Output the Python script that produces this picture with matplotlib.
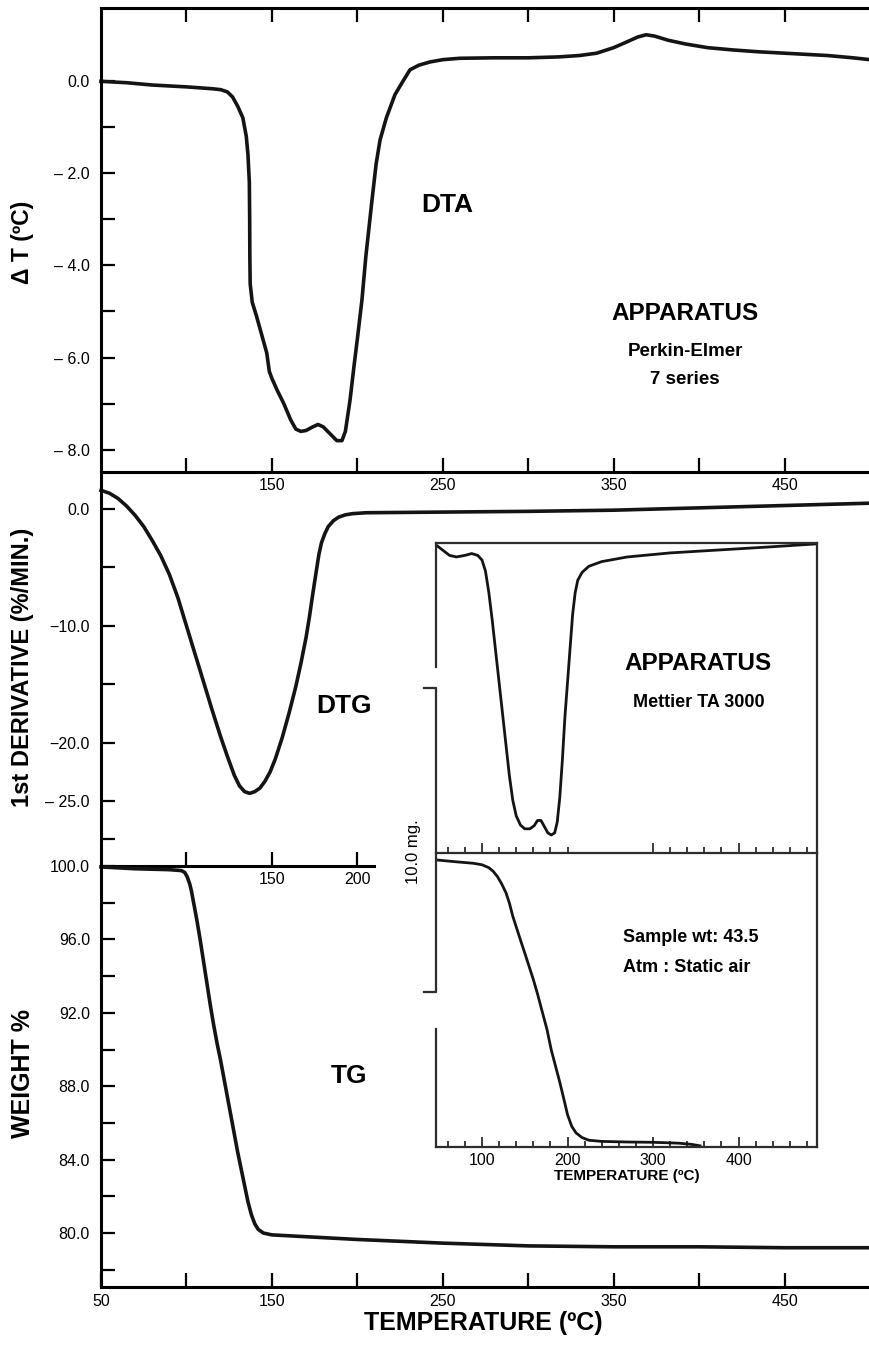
import matplotlib
matplotlib.use('Agg')
import matplotlib.pyplot as plt
import matplotlib.font_manager as fm
from matplotlib.lines import Line2D

# ---------------- data ----------------
dta_T = [50, 65, 80, 100, 115, 120, 124, 127, 130, 133, 135, 136, 136.8, 137, 137.1, 137.3,
         138.5, 141, 144, 147, 148.5, 150, 153, 157, 161, 164, 167, 170, 174, 177, 180, 184,
         188, 191, 193, 195.7, 198, 200, 202.7, 205, 208.6, 211, 213.3, 217, 222, 226, 230.8,
         236, 242.5, 250, 260, 280, 300, 318, 330, 340, 350, 358, 364, 369, 374, 382, 392,
         405, 420, 435, 450, 465, 475, 490, 500]
dta_v = [-0.01, -0.04, -0.09, -0.13, -0.17, -0.19, -0.24, -0.35, -0.55, -0.8, -1.2, -1.6,
         -2.2, -3.0, -3.8, -4.4, -4.8, -5.1, -5.5, -5.9, -6.3, -6.45, -6.7, -7.0, -7.35, -7.55,
         -7.6, -7.58, -7.5, -7.45, -7.5, -7.65, -7.8, -7.8, -7.6, -6.93, -6.2, -5.6, -4.75,
         -3.8, -2.58, -1.8, -1.28, -0.8, -0.3, -0.05, 0.24, 0.34, 0.41, 0.46, 0.49, 0.5, 0.5,
         0.52, 0.55, 0.6, 0.72, 0.85, 0.95, 1.0, 0.97, 0.88, 0.8, 0.72, 0.67, 0.63, 0.6, 0.57,
         0.55, 0.5, 0.46]

dtg_T = [50, 55, 60, 65, 70, 75, 80, 85, 90, 95, 100, 105, 110, 115, 120, 124, 128, 131, 134,
         137, 140, 143, 146, 149, 152, 156, 160, 164, 167, 170, 172, 174, 176, 177.5, 179, 181,
         183, 186, 189, 193, 197, 205, 220, 260, 300, 350, 400, 450, 500]
dtg_v = [1.6, 1.35, 0.9, 0.25, -0.55, -1.5, -2.7, -4.0, -5.6, -7.6, -10.0, -12.4, -14.8, -17.2,
         -19.5, -21.2, -22.8, -23.7, -24.2, -24.35, -24.2, -23.9, -23.3, -22.5, -21.4, -19.6,
         -17.5, -15.2, -13.2, -11.0, -9.2, -7.2, -5.3, -3.9, -2.9, -2.1, -1.5, -1.0, -0.7, -0.5,
         -0.4, -0.32, -0.3, -0.25, -0.2, -0.1, 0.1, 0.3, 0.5]

tg_T = [50, 70, 90, 97, 99, 100.5, 102, 103, 104, 105, 106, 108, 110, 112, 114, 116, 118, 120,
        122, 124, 126, 128, 130, 132, 134, 136, 138, 140, 142, 145, 150, 160, 170, 200, 250,
        300, 350, 400, 450, 500]
tg_w = [99.95, 99.85, 99.8, 99.75, 99.65, 99.4, 99.0, 98.6, 98.1, 97.6, 97.1, 96.0, 94.8,
        93.6, 92.4, 91.3, 90.3, 89.4, 88.4, 87.4, 86.4, 85.4, 84.4, 83.5, 82.6, 81.7, 81.0,
        80.5, 80.2, 80.0, 79.9, 79.85, 79.8, 79.65, 79.45, 79.3, 79.25, 79.25, 79.2, 79.2]

# inset (Mettler TA 3000), signals in relative units 0-100
ins_dta_T = [48, 55, 62, 70, 80, 88, 95, 100, 104, 108, 112, 116, 120, 124, 128, 132, 136, 140,
             145, 150, 156, 161, 165, 169, 173, 177, 181, 185, 188, 191, 194, 197, 200, 203, 206,
             209, 212, 217, 225, 240, 270, 320, 380, 440, 490]
ins_dta_v = [99, 97.5, 96, 95.5, 96, 96.6, 96, 94.5, 91, 84, 75, 65, 55, 45, 35, 25, 17, 12,
             9, 7.8, 7.8, 8.8, 10.5, 10.5, 8.5, 6.5, 5.8, 6.5, 10, 18, 30, 44, 55, 66, 77, 84,
             88, 90.5, 92.5, 94, 95.5, 96.8, 97.8, 98.8, 99.7]
ins_tg_T = [48, 70, 90, 100, 108, 113, 118, 123, 128, 132, 136, 141, 146, 150, 155, 160, 165,
            170, 176, 181, 186, 191, 196, 200, 205, 210, 217, 225, 240, 270, 300, 330, 345, 355]
ins_tg_v = [97.6, 97.0, 96.5, 96, 95, 93.8, 92, 89.5, 86.5, 83, 78.5, 74, 69.5, 66, 61.5, 57,
            52, 46.5, 40, 33, 27.5, 22, 16, 11, 7, 4.8, 3.2, 2.3, 1.9, 1.7, 1.6, 1.3, 0.9, 0.4]

# ticks / labels
x_ticks = [100, 150, 200, 250, 300, 350, 400, 450]
x_ticklabels = ['', '150', '', '250', '', '350', '', '450']
bot_x_ticks = [50, 100, 150, 200, 250, 300, 350, 400, 450]
bot_x_ticklabels = ['50', '', '150', '', '250', '', '350', '', '450']
dta_yticks = [0, -2, -4, -6, -8]
dta_yticklabels = ['0.0', '\u2013 2.0', '\u2013 4.0', '\u2013 6.0', '\u2013 8.0']
dta_yminor = [-1, -3, -5, -7]
dtg_yticks = [0, -10, -20, -25]
dtg_yticklabels = ['0.0', '\u221210.0', '\u221220.0', '\u2013 25.0']
dtg_yminor = [-5, -15, -28.3]
dtg_xticks = [100, 150, 200]
dtg_xticklabels = ['', '150', '200']
tg_yticks = [100, 96, 92, 88, 84, 80]
tg_yticklabels = ['100.0', '96.0', '92.0', '88.0', '84.0', '80.0']
tg_yminor = [98, 94, 90, 86, 82, 78]
ins_major = [100, 200, 300, 400]
ins_minor = [60, 80, 120, 140, 160, 180, 220, 240, 260, 280, 320, 340, 360, 380, 420, 440, 460, 480]
ins_div_major = [100, 300, 400]
ins_div_minor = [60, 80, 120, 140, 160, 180, 200, 320, 340, 360, 380, 420, 440, 460, 480]

# ---------------- style ----------------
names = {f.name for f in fm.fontManager.ttflist}
NARROW = 'Liberation Sans Narrow' if 'Liberation Sans Narrow' in names else 'Liberation Sans'
plt.rcParams['font.family'] = ['Liberation Sans', 'DejaVu Sans']
INK = '#141414'

W, H = 870, 1358
fig = plt.figure(figsize=(W / 100, H / 100), dpi=100)


def box(x0, y0, x1, y1):
    return [x0 / W, 1 - y1 / H, (x1 - x0) / W, (y1 - y0) / H]


def fx(x):
    return x / W


def fy(y):
    return 1 - y / H


SP = 2.2
def style(ax, lw=SP):
    ax.set_facecolor('none')
    for s in ax.spines.values():
        s.set_linewidth(lw)
        s.set_color('black')
    ax.tick_params(axis='both', which='both', direction='in', width=1.6, labelsize=11.5,
                   colors='black')
    ax.tick_params(axis='both', which='major', length=10)
    ax.tick_params(axis='both', which='minor', length=10)


# ---- DTA (top) ----
ax1 = fig.add_axes(box(101, 8, 870, 472))
style(ax1)
ax1.set_xlim(50, 500)
ax1.set_ylim(-8.48, 1.58)
ax1.spines['right'].set_visible(False)
ax1.plot(dta_T, dta_v, color=INK, lw=2.6, clip_on=False, solid_joinstyle='round')
ax1.set_xticks(x_ticks)
ax1.set_xticklabels(x_ticklabels)
ax1.tick_params(axis='x', top=True, bottom=True, labeltop=False, labelbottom=True, pad=4)
ax1.set_yticks(dta_yticks)
ax1.set_yticklabels(dta_yticklabels)
ax1.set_yticks(dta_yminor, minor=True)
ax1.tick_params(axis='y', pad=8)
ax1.set_zorder(3)

# ---- DTG (middle) ----
ax2 = fig.add_axes(box(101, 472, 870, 866))
style(ax2)
ax2.set_xlim(50, 500)
ax2.set_ylim(-30.57, 3.17)
ax2.spines['right'].set_visible(False)
ax2.spines['top'].set_visible(False)
ax2.spines['bottom'].set_bounds(50, 210)
ax2.plot(dtg_T, dtg_v, color=INK, lw=2.6, clip_on=False, solid_joinstyle='round')
ax2.set_xticks(dtg_xticks)
ax2.set_xticklabels(dtg_xticklabels)
ax2.tick_params(axis='x', pad=4)
ax2.set_yticks(dtg_yticks)
ax2.set_yticklabels(dtg_yticklabels)
ax2.set_yticks(dtg_yminor, minor=True)
ax2.tick_params(axis='y', pad=8)

# ---- TG (bottom) ----
ax3 = fig.add_axes(box(101, 866, 870, 1287))
style(ax3)
ax3.set_xlim(50, 500)
ax3.set_ylim(77.06, 100)
ax3.spines['right'].set_visible(False)
ax3.spines['top'].set_visible(False)
ax3.plot(tg_T, tg_w, color=INK, lw=2.6, clip_on=False, solid_joinstyle='round')
ax3.set_xticks(bot_x_ticks)
ax3.set_xticklabels(bot_x_ticklabels)
ax3.tick_params(axis='x', pad=5)
ax3.set_yticks(tg_yticks)
ax3.set_yticklabels(tg_yticklabels)
ax3.set_yticks(tg_yminor, minor=True)
ax3.tick_params(axis='y', pad=8)

# ---- inset ----
INS = '#2e2a30'
ax4 = fig.add_axes(box(436, 543, 817, 853))
ax5 = fig.add_axes(box(436, 853, 817, 1147))
for a in (ax4, ax5):
    a.set_facecolor('none')
    a.set_xlim(46.2, 491.8)
    a.set_ylim(0, 100)
    a.set_yticks([])
    for s in a.spines.values():
        s.set_linewidth(1.6)
        s.set_color(INS)
    a.tick_params(axis='x', which='both', direction='in', width=1.3, colors=INS,
                  labelcolor='black', labelsize=11.5, pad=4)
    a.tick_params(axis='x', which='major', length=7)
    a.tick_params(axis='x', which='minor', length=4.5)
ax4.spines['left'].set_bounds(60, 100)
ax5.spines['left'].set_bounds(0, 40)
ax5.spines['top'].set_visible(False)
ax4.set_xticks(ins_div_major)
ax4.set_xticks(ins_div_minor, minor=True)
ax4.tick_params(axis='x', labelbottom=False)
ax5.set_xticks(ins_major)
ax5.set_xticks(ins_minor, minor=True)
ax5.set_xlabel('TEMPERATURE (\u00baC)', fontsize=11, fontweight='bold', labelpad=1)
ax4.plot(ins_dta_T, ins_dta_v, color=INK, lw=2.0, solid_joinstyle='round')
ax5.plot(ins_tg_T, ins_tg_v, color=INK, lw=2.0, solid_joinstyle='round')

# scale bracket "10.0 mg."
bx, bx0, by0, by1 = 436, 424, 688, 992
fig.add_artist(Line2D([fx(bx0), fx(bx), fx(bx), fx(bx0)], [fy(by0), fy(by0), fy(by1), fy(by1)],
                      color=INS, lw=1.6))
fig.text(fx(414), fy(852), '10.0 mg.', rotation=90, ha='center', va='center', fontsize=12)

# ---------------- texts ----------------
fig.text(fx(23), fy(242), '\u0394 T (\u00baC)', rotation=90, ha='center', va='center',
         fontsize=16.5, fontweight='bold')
fig.text(fx(23), fy(667), '1st DERIVATIVE (%/MIN.)', rotation=90, ha='center', va='center',
         fontsize=17, fontweight='bold')
fig.text(fx(23), fy(1073), 'WEIGHT %', rotation=90, ha='center', va='center',
         fontsize=18, fontweight='bold')
fig.text(fx(483), fy(1323), 'TEMPERATURE (\u00baC)', ha='center', va='center',
         fontsize=18, fontweight='bold', family=[NARROW, 'DejaVu Sans'])

fig.text(fx(447), fy(205), 'DTA', ha='center', va='center', fontsize=19, fontweight='bold',
         family=[NARROW, 'DejaVu Sans'])
fig.text(fx(344), fy(706), 'DTG', ha='center', va='center', fontsize=19, fontweight='bold',
         family=[NARROW, 'DejaVu Sans'])
fig.text(fx(349), fy(1076), 'TG', ha='center', va='center', fontsize=19, fontweight='bold',
         family=[NARROW, 'DejaVu Sans'])

fig.text(fx(685), fy(313), 'APPARATUS', ha='center', va='center', fontsize=17.5, fontweight='bold')
fig.text(fx(685), fy(352), 'Perkin-Elmer', ha='center', va='center', fontsize=13.5,
         fontweight='bold', family=[NARROW, 'DejaVu Sans'])
fig.text(fx(685), fy(380), '7 series', ha='center', va='center', fontsize=13.5,
         fontweight='bold', family=[NARROW, 'DejaVu Sans'])

fig.text(fx(698), fy(664), 'APPARATUS', ha='center', va='center', fontsize=17.5, fontweight='bold')
fig.text(fx(699), fy(702), 'Mettier TA 3000', ha='center', va='center', fontsize=13,
         fontweight='bold', family=[NARROW, 'DejaVu Sans'])
fig.text(fx(623), fy(937), 'Sample wt: 43.5', ha='left', va='center', fontsize=13,
         fontweight='bold', family=[NARROW, 'DejaVu Sans'])
fig.text(fx(623), fy(967), 'Atm : Static air', ha='left', va='center', fontsize=13,
         fontweight='bold', family=[NARROW, 'DejaVu Sans'])

fig.savefig('out.png', dpi=100, facecolor='white')
